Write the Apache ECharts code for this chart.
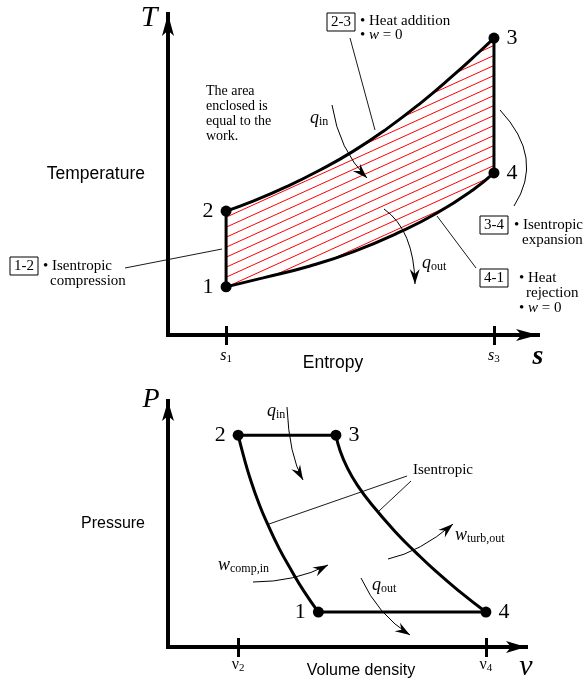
<!DOCTYPE html>
<html><head><meta charset="utf-8">
<script src="https://cdn.jsdelivr.net/npm/echarts@6/dist/echarts.min.js"></script>
<style>html,body{margin:0;padding:0;background:#fff}#c{width:584px;height:683px}</style>
</head><body><div id="c"></div>
<script>
// ---------- T-s diagram (entropy s, temperature T; arbitrary units) ----------
const tsHeatAddS = [1.57, 2.30, 3.22, 4.11, 5.00, 5.92, 6.81, 7.70, 8.43, 8.81]; // 2 -> 3
const tsHeatAddT = [3.86, 4.17, 4.63, 5.14, 5.72, 6.43, 7.21, 8.08, 8.84, 9.25];
const tsHeatRejS = [1.57, 2.57, 3.84, 5.00, 6.27, 7.27, 8.24, 8.81];             // 1 -> 4
const tsHeatRejT = [1.50, 1.78, 2.15, 2.59, 3.21, 3.80, 4.52, 5.05];
const sTickValues = [1.57, 8.81];
const sTickSubs = ['1', '3'];

// ---------- P-v diagram (specific volume v, pressure P; arbitrary units) ----------
const pvCompV = [1.96, 2.10, 2.29, 2.55, 2.79, 3.10, 3.46, 3.80, 4.20];  // 2 -> 1
const pvCompP = [8.61, 7.82, 6.87, 5.79, 4.97, 4.02, 3.08, 2.26, 1.42];
const pvTurbV = [4.69, 4.81, 5.01, 5.28, 5.69, 6.42, 6.89, 7.48, 8.14, 8.88];  // 3 -> 4
const pvTurbP = [8.61, 7.97, 7.28, 6.60, 5.79, 4.57, 3.89, 3.08, 2.26, 1.42];
const vTickValues = [1.96, 8.88];
const vTickSubs = ['2', '4'];

const stateNames = ['1', '2', '3', '4'];

const SERIF = '"Liberation Serif","Times New Roman",serif';
const SANS = '"Liberation Sans",Arial,Helvetica,sans-serif';
const zip = (a, b) => a.map((v, i) => [v, b[i]]);
const last = a => a[a.length - 1];

// state points derived from the curves
const ts1 = [tsHeatRejS[0], tsHeatRejT[0]];
const ts2 = [tsHeatAddS[0], tsHeatAddT[0]];
const ts3 = [last(tsHeatAddS), last(tsHeatAddT)];
const ts4 = [last(tsHeatRejS), last(tsHeatRejT)];
const pv1 = [last(pvCompV), last(pvCompP)];
const pv2 = [pvCompV[0], pvCompP[0]];
const pv3 = [pvTurbV[0], pvTurbP[0]];
const pv4 = [last(pvTurbV), last(pvTurbP)];

// red hatch pattern
const hc = document.createElement('canvas');
hc.width = 22; hc.height = 10;
const hg = hc.getContext('2d');
hg.strokeStyle = '#ff0000'; hg.lineWidth = 1;
[[0,0],[-22,0],[22,0],[0,-10],[0,10]].forEach(([ox, oy]) => {
  hg.beginPath(); hg.moveTo(ox, oy + 10); hg.lineTo(ox + 22, oy); hg.stroke();
});
const hatch = { image: hc, repeat: 'repeat' };

const subRich = (fs, sfs) => ({
  i: { fontFamily: SERIF, fontStyle: 'italic', fontSize: fs, lineHeight: fs + 2, color: '#000' },
  u: { fontFamily: SERIF, fontSize: fs, lineHeight: fs + 2, color: '#000' },
  s: { fontFamily: SERIF, fontSize: sfs, lineHeight: sfs, verticalAlign: 'bottom', color: '#000' }
});

// axis index pairs: grid 0 -> x0/y0, grid 1 -> x2/y1
const AX = [{ x: 0, y: 0 }, { x: 2, y: 1 }];
const cycleLine = { color: '#000', width: 3 };
function lineSeries(data, gi, smooth) {
  return { type: 'line', xAxisIndex: AX[gi].x, yAxisIndex: AX[gi].y, data, symbol: 'none', smooth: smooth || false,
    lineStyle: cycleLine, z: 3, silent: true };
}
function stateSeries(gi, pts, positions) {
  return { type: 'scatter', xAxisIndex: AX[gi].x, yAxisIndex: AX[gi].y, symbolSize: 11, z: 5, silent: true,
    itemStyle: { color: '#000', opacity: 1 },
    label: { show: true, formatter: '{b}', fontFamily: SERIF, fontSize: 22, color: '#000', distance: 7 },
    data: pts.map((p, i) => ({ name: stateNames[i], value: p, label: { position: positions[i] } })) };
}

function xAxes(gi, tickVals, tickSubs, italic, name, nameGap, namePad) {
  const common = { gridIndex: gi, type: 'value', min: 0, max: 10, splitLine: { show: false } };
  return [
    Object.assign({}, common, {
      name, nameLocation: 'middle', nameGap, nameMoveOverlap: false,
      nameTextStyle: { fontFamily: SANS, fontSize: gi === 0 ? 17.5 : 16, color: '#000', padding: namePad },
      axisLine: { show: true, onZero: false, symbol: ['none', 'arrow'], symbolSize: [9, gi === 0 ? 22 : 20],
        lineStyle: { color: '#000', width: 4, cap: 'square' } },
      axisTick: { show: true, customValues: tickVals, length: 10, lineStyle: { color: '#000', width: 3 } },
      axisLabel: { show: true, customValues: tickVals, margin: gi === 0 ? 12 : 9,
        formatter: v => { const k = tickVals.indexOf(v); return '{' + (italic ? 'i' : 'u') + '|' + (italic ? 's' : 'ν') + '}{s|' + tickSubs[k] + '}'; },
        rich: subRich(16, 11) }
    }),
    Object.assign({}, common, {
      position: 'bottom', offset: 0,
      axisLine: { show: false, onZero: false },
      axisTick: { show: true, inside: true, customValues: tickVals, length: 9, lineStyle: { color: '#000', width: 3 } },
      axisLabel: { show: false }
    })
  ];
}
function yAxis(gi, name, namePad, fs) {
  return { gridIndex: gi, type: 'value', min: 0, max: 10, splitLine: { show: false },
    name, nameLocation: 'middle', nameRotate: 0, nameGap: 23, nameMoveOverlap: false,
    nameTextStyle: { fontFamily: SANS, fontSize: fs, color: '#000', padding: namePad },
    axisLine: { show: true, onZero: false, symbol: ['none', 'arrow'], symbolSize: [9, gi === 0 ? 22 : 20],
      lineStyle: { color: '#000', width: 4, cap: 'square' } },
    axisTick: { show: false }, axisLabel: { show: false } };
}

// ---------- annotations ----------
const G = [];
function seg(x1, y1, x2, y2) { G.push({ type: 'line', z: 10, silent: true, shape: { x1, y1, x2, y2 }, style: { stroke: '#000', lineWidth: 0.9 } }); }
function curve(x1, y1, cx, cy, x2, y2) {
  G.push({ type: 'bezierCurve', z: 10, silent: true, shape: { x1, y1, cpx1: cx, cpy1: cy, x2, y2 }, style: { stroke: '#000', lineWidth: 1, fill: null } });
}
function arrow(x1, y1, cx, cy, x2, y2) {
  curve(x1, y1, cx, cy, x2, y2);
  const dx = x2 - cx, dy = y2 - cy, L = Math.hypot(dx, dy), ux = dx / L, uy = dy / L, nx = -uy, ny = ux;
  const len = 15, hw = 5, notch = 10;
  const bx = x2 - ux * len, by = y2 - uy * len, mx = x2 - ux * notch, my = y2 - uy * notch;
  G.push({ type: 'polygon', z: 11, silent: true,
    shape: { points: [[x2, y2], [bx + nx * hw, by + ny * hw], [mx, my], [bx - nx * hw, by - ny * hw]] },
    style: { fill: '#000' } });
}
function text(x, y, t, opts) {
  G.push({ type: 'text', x, y, z: 12, silent: true,
    style: Object.assign({ text: t, fontFamily: SERIF, fontSize: 15, fill: '#000', align: 'left', verticalAlign: 'middle' }, opts || {}) });
}
function box(x, y, t) {
  text(x, y, t, { align: 'center', borderColor: '#000', borderWidth: 1, padding: [2, 4, 1, 4] });
}
function subText(x, y, main, sub) {
  text(x, y, '{i|' + main + '}{s|' + sub + '}', { rich: subRich(18, 12) });
}

// T-s annotations
text(149, 18, 'T', { align: 'center', fontStyle: 'italic', fontSize: 30 });
text(538, 357, 's', { align: 'center', fontStyle: 'italic', fontWeight: 'bold', fontSize: 28 });
text(206, 84, 'The area\nenclosed is\nequal to the\nwork.', { verticalAlign: 'top', fontSize: 14, lineHeight: 15 });
box(341, 22, '2-3');
text(360, 14, '• Heat addition\n• {i|w} = 0', { verticalAlign: 'top', lineHeight: 14,
  rich: { i: { fontFamily: SERIF, fontStyle: 'italic', fontSize: 15, lineHeight: 14 } } });
seg(350, 38, 375, 130);
box(24, 266, '1-2');
text(43, 266, '• Isentropic');
text(50, 281, 'compression');
seg(125, 268, 222, 249);
box(494, 225, '3-4');
text(514, 225, '• Isentropic');
text(522, 240, 'expansion');
curve(500, 110, 545, 158, 514, 206);
box(494, 278, '4-1');
text(519, 278, '• Heat');
text(526, 293, 'rejection');
text(519, 308, '• {i|w} = 0', { rich: { i: { fontFamily: SERIF, fontStyle: 'italic', fontSize: 15 } } });
seg(437, 216, 476, 268);
arrow(332, 105, 339, 150, 367, 178);
subText(310, 118, 'q', 'in');
arrow(384, 209, 414, 230, 415, 284);
subText(422, 263, 'q', 'out');

// P-v annotations
text(151, 400, 'P', { align: 'center', fontStyle: 'italic', fontSize: 28 });
text(526, 667, 'v', { align: 'center', fontStyle: 'italic', fontSize: 30 });
text(413, 470, 'Isentropic');
seg(407, 476, 269, 524);
seg(411, 481, 379, 511);
arrow(287, 407, 289, 455, 303, 480);
subText(267, 411, 'q', 'in');
arrow(253, 582, 295, 582, 328, 565);
subText(218, 565, 'w', 'comp,in');
arrow(388, 559, 420, 552, 453, 524);
subText(455, 535, 'w', 'turb,out');
arrow(361, 578, 378, 615, 410, 635);
subText(372, 585, 'q', 'out');

const option = {
  animation: false,
  backgroundColor: '#fff',
  grid: [
    { left: 168, top: 14, width: 370, height: 321, containLabel: false, outerBoundsMode: 'none' },
    { left: 168, top: 401, width: 358, height: 246, containLabel: false, outerBoundsMode: 'none' }
  ],
  xAxis: [].concat(
    xAxes(0, sTickValues, sTickSubs, true, 'Entropy', 19, [0, 40, 0, 0]),
    xAxes(1, vTickValues, vTickSubs, false, 'Volume density', 16, [0, 0, 0, 28])
  ),
  yAxis: [yAxis(0, 'Temperature', [3, 0, 0, 0], 17.5), yAxis(1, 'Pressure', [0, 0, 10, 0], 16)],
  series: [
    { type: 'custom', xAxisIndex: 0, yAxisIndex: 0, data: [[0, 0]], z: 1, silent: true,
      renderItem: (params, api) => {
        const pts = zip(tsHeatAddS, tsHeatAddT).map(p => api.coord(p))
          .concat(zip(tsHeatRejS, tsHeatRejT).reverse().map(p => api.coord(p)));
        return { type: 'polygon', shape: { points: pts }, style: { fill: hatch, stroke: null } };
      } },
    lineSeries(zip(tsHeatAddS, tsHeatAddT), 0, 0.5),
    lineSeries(zip(tsHeatRejS, tsHeatRejT), 0, 0.5),
    lineSeries([ts1, ts2], 0),
    lineSeries([ts3, ts4], 0),
    stateSeries(0, [ts1, ts2, ts3, ts4], ['left', 'left', 'right', 'right']),
    lineSeries(zip(pvCompV, pvCompP), 1, 0.5),
    lineSeries(zip(pvTurbV, pvTurbP), 1, 0.5),
    lineSeries([pv2, pv3], 1),
    lineSeries([pv1, pv4], 1),
    stateSeries(1, [pv1, pv2, pv3, pv4], ['left', 'left', 'right', 'right'])
  ],
  graphic: { elements: G }
};
const chart = echarts.init(document.getElementById('c'), null, { renderer: 'canvas' });
chart.setOption(option);
</script>
</body></html>
